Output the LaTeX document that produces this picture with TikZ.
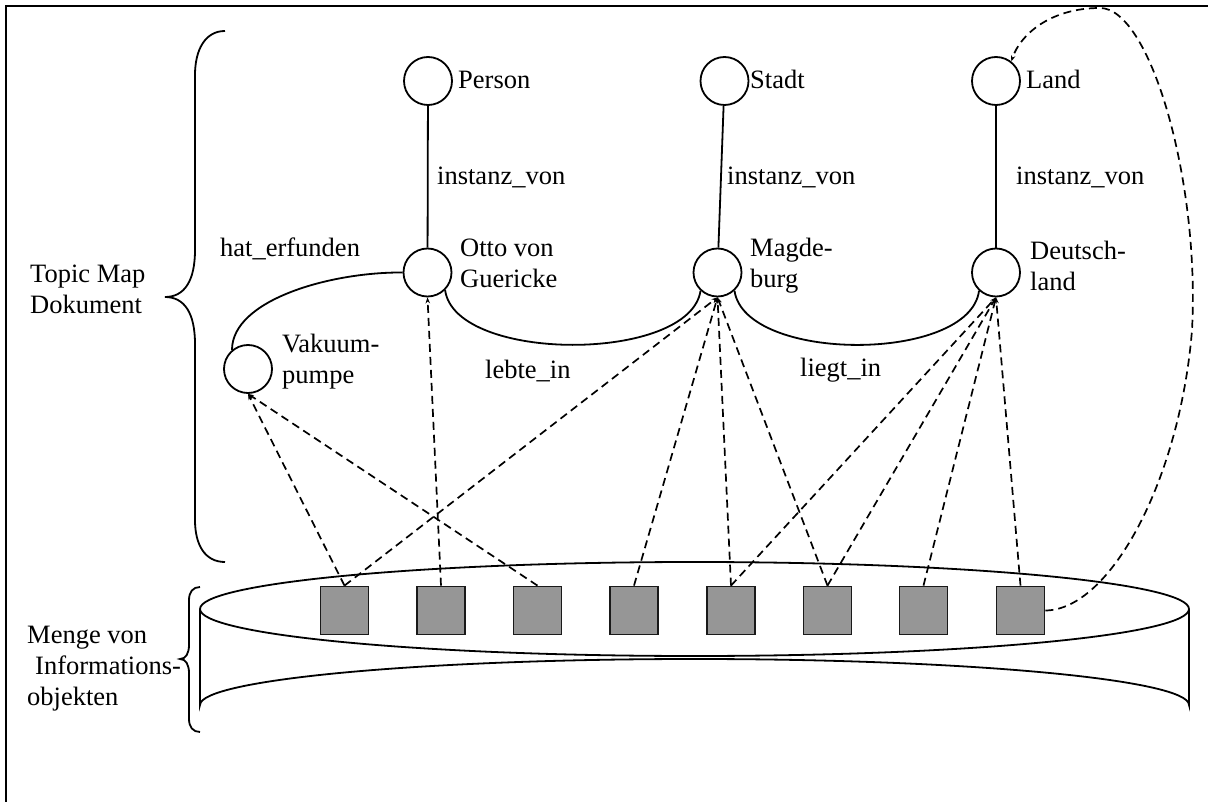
\documentclass[tikz,border=0pt]{standalone}
\usepackage{fontspec}
\setmainfont{Liberation Serif}
\usetikzlibrary{arrows.meta}

\definecolor{objgray}{HTML}{969696}
\newcommand\twolines[2]{\begin{tabular}[t]{@{}l@{}}#1\\#2\end{tabular}}

\tikzset{
  topic/.style={circle, draw, line width=1.8pt, minimum size=48pt, inner sep=0pt},
  infobj/.style={rectangle, draw=black!90, fill=objgray, line width=1.8pt, minimum size=48pt, inner sep=0pt},
  rel/.style={line width=1.8pt},
  occ/.style={line width=1.7pt, dash pattern=on 8pt off 5pt, -{Stealth[length=6pt,width=4.5pt]}},
  lbl/.style={inner sep=0pt, anchor=base west, font=\fontsize{26.5}{31}\selectfont},
  bracestroke/.style={line width=1.8pt},
}

\begin{document}
\begin{tikzpicture}[x=1pt, y=-1pt]
\useasboundingbox (0,0) rectangle (1208,802);
\clip (0,0) rectangle (1208,802);

% outer frame
\draw[line width=2.4pt] (6,6) rectangle (1260,860);

% braces on the left
\draw[bracestroke] (225,31) .. controls (205,31) and (195,50) .. (195,75)
  -- (195,250) .. controls (195,280) and (185,297) .. (165,297)
  .. controls (185,297) and (195,314) .. (195,344)
  -- (195,520) .. controls (195,545) and (205,562) .. (225,562);
\draw[bracestroke] (200,587) .. controls (193,587) and (189,592) .. (189,600)
  -- (189,645) .. controls (189,653) and (186,659) .. (180,659)
  .. controls (186,659) and (189,665) .. (189,673)
  -- (189,719) .. controls (189,727) and (193,732) .. (200,732);

\node[lbl] (tmdoc) at (30,283) {\twolines{Topic Map}{Dokument}};
\node[lbl] (menge) at (27,643) {\begin{tabular}[t]{@{}l@{}}Menge von\\\hspace{8pt}Informations-\\objekten\end{tabular}};

% storage cylinder
\draw[rel, fill=white] (200,609) -- (200,705) arc[start angle=180, end angle=360, x radius=494.5, y radius=46] -- (1189,609);
\draw[rel] (694.5,609) ellipse[x radius=494.5, y radius=47];

% topics
\node[topic] (person) at (428,81) {};
\node[topic] (stadt) at (724.5,81) {};
\node[topic] (land) at (996,81) {};
\node[topic] (otto) at (427.5,272.5) {};
\node[topic] (magdeburg) at (717.5,272.5) {};
\node[topic] (deutschland) at (996,272.5) {};
\node[topic] (vakuum) at (248,369) {};

\node[lbl] (person-l) at (458,89) {Person};
\node[lbl] (stadt-l) at (750,89) {Stadt};
\node[lbl] (land-l) at (1026,89) {Land};
\node[lbl] (otto-l) at (460,257) {\twolines{Otto von}{Guericke}};
\node[lbl] (magdeburg-l) at (750,257) {\twolines{Magde-}{burg}};
\node[lbl] (deutschland-l) at (1030,260) {\twolines{Deutsch-}{land}};
\node[lbl] (vakuum-l) at (282,353) {\twolines{Vakuum-}{pumpe}};

% associations
\draw[rel] (person) -- (otto);
\draw[rel] (stadt) -- (magdeburg);
\draw[rel] (land) -- (deutschland);
\draw[rel] (otto.west) .. controls (330,272) and (232,300) .. (vakuum.130);
\draw[rel] (otto.-45) .. controls (455,363) and (690,363) .. (magdeburg.-133);
\draw[rel] (magdeburg.-47) .. controls (745,363) and (970,363) .. (deutschland.-133);

\node[lbl] (inst1) at (437,185) {instanz\_von};
\node[lbl] (inst2) at (727,185) {instanz\_von};
\node[lbl] (inst3) at (1016,185) {instanz\_von};
\node[lbl] (erf) at (220,257) {hat\_erfunden};
\node[lbl] (lebte) at (485,378) {lebte\_in};
\node[lbl] (liegt) at (800,377) {liegt\_in};

% information objects
\foreach \i/\x in {1/344.5, 2/441, 3/537.5, 4/634, 5/731, 6/827.5, 7/923.5, 8/1020.5}
  \node[infobj] (s\i) at (\x,610.5) {};

% occurrences
\draw[occ] (s1.north) -- (vakuum.south);
\draw[occ] (s1.north) -- (magdeburg.south);
\draw[occ] (s2.north) -- (otto.south);
\draw[occ] (s3.north) -- (vakuum.south);
\draw[occ] (s4.north) -- (magdeburg.south);
\draw[occ] (s5.north) -- (magdeburg.south);
\draw[occ] (s5.north) -- (deutschland.south);
\draw[occ] (s6.north) -- (magdeburg.south);
\draw[occ] (s6.north) -- (deutschland.south);
\draw[occ] (s7.north) -- (deutschland.south);
\draw[occ] (s8.north) -- (deutschland.south);
\draw[occ] (s8.east) .. controls (1110,610) and (1180,480) .. (1192,330)
  .. controls (1200,180) and (1150,8) .. (1100,8)
  .. controls (1050,8) and (1020,35) .. (land.52);
\end{tikzpicture}
\end{document}
